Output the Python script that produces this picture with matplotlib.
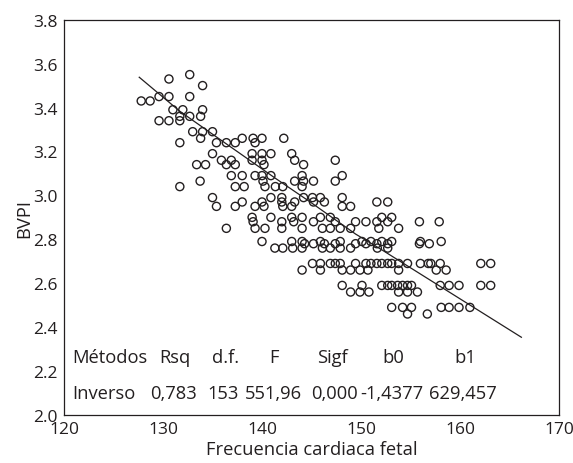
import matplotlib
matplotlib.use("Agg")
import matplotlib.pyplot as plt

plt.rcParams['font.family'] = ['Open Sans', 'DejaVu Sans']

# Scatter data, grouped by BVPI level
rows = {
    3.55: [132.7],
    3.53: [130.6],
    3.50: [134.0],
    3.45: [129.6, 130.6, 132.7],
    3.43: [127.8, 128.7],
    3.39: [131.0, 132.0, 134.0],
    3.36: [131.7, 132.7, 133.8],
    3.34: [129.6, 130.6, 131.7],
    3.29: [133.0, 134.0, 135.0],
    3.26: [133.8, 138.0, 139.1, 140.0, 142.2],
    3.24: [131.7, 135.4, 136.4, 137.3, 139.3],
    3.19: [135.0, 139.0, 140.0, 140.9, 143.0],
    3.16: [135.9, 136.9, 139.0, 140.0, 143.3, 147.4],
    3.14: [133.4, 134.3, 136.4, 137.3, 140.2, 144.2],
    3.09: [136.9, 138.0, 139.3, 140.0, 140.9, 144.05, 148.1],
    3.065: [133.75, 140.1, 143.3, 144.2, 145.2, 147.4],
    3.04: [131.7, 137.3, 138.2, 140.3, 141.35, 142.1, 144.05],
    2.99: [135.0, 140.9, 142.0, 144.2, 145.1, 145.9, 148.1],
    2.97: [138.0, 140.0, 142.0, 143.3, 145.2, 146.3, 151.6, 152.7],
    2.95: [135.4, 137.3, 139.3, 140.2, 142.1, 143.0, 148.1, 148.95],
    2.90: [139.0, 140.9, 143.0, 144.05, 145.9, 146.9, 152.1, 153.1],
    2.88: [139.1, 142.0, 143.2, 145.2, 147.4, 149.45, 150.5, 151.6, 152.7, 155.9, 157.9],
    2.85: [136.4, 139.3, 140.3, 142.0, 144.05, 146.1, 146.9, 147.9, 148.95, 151.8, 153.8],
    2.79: [140.0, 143.0, 144.05, 145.9, 147.9, 150.1, 151.0, 152.1, 153.1, 156.0, 158.1],
    2.78: [144.3, 145.2, 146.3, 147.4, 149.45, 150.5, 151.6, 152.7, 155.9, 156.9],
    2.76: [141.3, 142.1, 143.1, 144.05, 146.1, 146.9, 147.9, 148.95, 151.65, 152.7],
    2.69: [145.1, 145.9, 146.9, 147.4, 147.9, 149.45, 150.5, 151.0, 151.6, 152.1,
           152.7, 153.1, 153.8, 154.7, 156.0, 156.8, 157.05, 158.0, 162.1, 163.1],
    2.66: [144.05, 145.9, 148.1, 148.95, 149.9, 150.7, 153.8, 157.6, 158.6],
    2.59: [148.1, 150.1, 152.1, 152.7, 153.1, 153.7, 154.2, 154.7, 155.1, 158.0,
           158.9, 159.9, 162.1, 163.1],
    2.56: [148.95, 149.9, 150.8, 153.8, 154.7, 155.7],
    2.49: [153.1, 154.2, 155.1, 158.1, 158.9, 159.9, 161.0],
    2.46: [154.7, 156.7],
}
fhr = [x for y, xs in rows.items() for x in xs]
bvpi = [y for y, xs in rows.items() for x in xs]

# Fitted curve
fit_x = [127.6, 131.7, 141.35, 144.9, 149.45, 152.0, 166.2]
fit_y = [3.538, 3.383, 3.078, 2.969, 2.824, 2.755, 2.354]

header = ["Métodos", "Rsq", "d.f.", "F", "Sigf", "b0", "b1"]
values = ["Inverso", "0,783", "153", "551,96", "0,000", "-1,4377", "629,457"]
header_x = [120.85, 129.6, 134.93, 140.74, 145.57, 152.16, 159.41]
values_x = [120.85, 128.68, 134.53, 138.31, 144.96, 149.89, 156.88]

xticks = [120, 130, 140, 150, 160, 170]
yticks = [2.0, 2.2, 2.4, 2.6, 2.8, 3.0, 3.2, 3.4, 3.6, 3.8]

ink = '#231f20'
fig = plt.figure(figsize=(5.73, 4.64), dpi=100)
ax = fig.add_axes([64 / 573, 1 - 416 / 464, (559 - 64) / 573, (416 - 20.7) / 464])

ax.plot(fit_x, fit_y, color=ink, lw=0.9, zorder=2)
ax.scatter(fhr, bvpi, s=34, facecolors='none', edgecolors=ink, linewidths=1.0, zorder=3)

ax.set_xlim(120, 170)
ax.set_ylim(2.0, 3.8)
ax.set_xticks(xticks)
ax.set_xticklabels([str(t) for t in xticks])
ax.set_yticks(yticks)
ax.set_yticklabels([f"{t:.1f}" for t in yticks])
ax.tick_params(length=0, labelsize=12.5, pad=4.5, colors=ink)
for s in ax.spines.values():
    s.set_color(ink)
    s.set_linewidth(0.9)

for t, x in zip(header, header_x):
    ax.text(x, 2.262, t, fontsize=13.2, color=ink, va='center', ha='left')
for t, x in zip(values, values_x):
    ax.text(x, 2.102, t, fontsize=13.2, color=ink, va='center', ha='left')

ax.set_xlabel("Frecuencia cardiaca fetal", fontsize=13.2, color=ink, labelpad=2)
ax.set_ylabel("BVPI", fontsize=13.2, color=ink, labelpad=0)

fig.savefig("out.png", dpi=100)
